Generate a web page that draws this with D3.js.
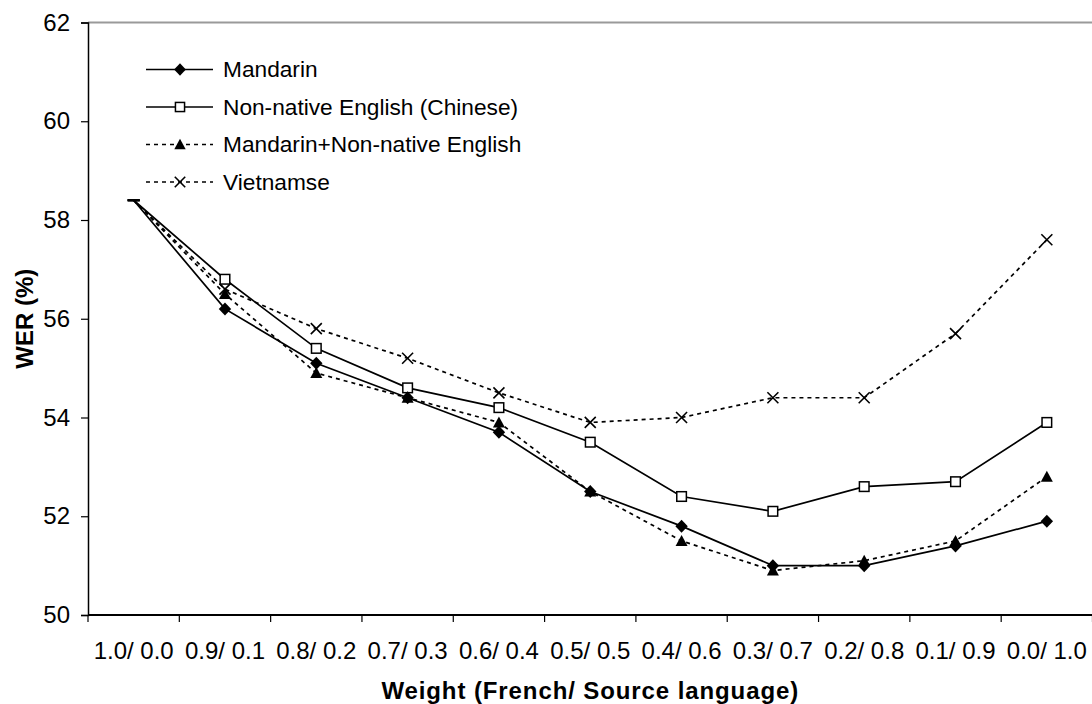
<!DOCTYPE html>
<html>
<head>
<meta charset="utf-8">
<script src="https://cdn.jsdelivr.net/npm/d3@7"></script>
<style>
  html, body { margin: 0; padding: 0; background: #fff; }
  svg { display: block; font-family: "Liberation Sans", Arial, sans-serif; }
</style>
</head>
<body>
<svg id="chart" width="1092" height="704"></svg>
<script>
const categories = ["1.0/ 0.0", "0.9/ 0.1", "0.8/ 0.2", "0.7/ 0.3", "0.6/ 0.4", "0.5/ 0.5",
                    "0.4/ 0.6", "0.3/ 0.7", "0.2/ 0.8", "0.1/ 0.9", "0.0/ 1.0"];
const mandarin   = [58.4, 56.2, 55.1, 54.4, 53.7, 52.5, 51.8, 51.0, 51.0, 51.4, 51.9];
const nonNative  = [58.4, 56.8, 55.4, 54.6, 54.2, 53.5, 52.4, 52.1, 52.6, 52.7, 53.9];
const mixed      = [58.4, 56.5, 54.9, 54.4, 53.9, 52.5, 51.5, 50.9, 51.1, 51.5, 52.8];
const vietnamese = [58.4, 56.6, 55.8, 55.2, 54.5, 53.9, 54.0, 54.4, 54.4, 55.7, 57.6];
const seriesNames = ["Mandarin", "Non-native English (Chinese)", "Mandarin+Non-native English", "Vietnamse"];
const yTicks = [50, 52, 54, 56, 58, 60, 62];
const xTitle = "Weight (French/ Source language)";
const yTitle = "WER (%)";

(function () {
const series = [
  { name: seriesNames[0], values: mandarin,   marker: "diamond",  dash: null },
  { name: seriesNames[1], values: nonNative,  marker: "square",   dash: null },
  { name: seriesNames[2], values: mixed,      marker: "triangle", dash: "4,4" },
  { name: seriesNames[3], values: vietnamese, marker: "cross",    dash: "4,4" }
];

const svg = d3.select("#chart");
const pLeft = 88, pRight = 1092.5, pTop = 22.5, pBottom = 615;

const x = d3.scaleBand().domain(categories).range([pLeft, pRight]).padding(0);
const xc = c => x(c) + x.bandwidth() / 2;
const y = d3.scaleLinear().domain([50, 62]).range([pBottom, pTop]);

// top border (grey)
svg.append("line").attr("x1", pLeft).attr("x2", 1092).attr("y1", pTop).attr("y2", pTop)
  .attr("stroke", "#9a9a9a").attr("stroke-width", 2);

// Y axis
const yAxis = svg.append("g").attr("transform", `translate(${pLeft},0)`)
  .call(d3.axisLeft(y).tickValues(yTicks).tickSize(7).tickPadding(11).tickFormat(d3.format("d")));
yAxis.select(".domain").attr("stroke", "#000").attr("stroke-width", 1.5);
yAxis.selectAll(".tick line").attr("stroke", "#000").attr("stroke-width", 1.2);
yAxis.selectAll("text").attr("font-size", 24).attr("fill", "#000")
  .attr("font-family", "'Liberation Sans', Arial, sans-serif");

// X axis
const xTickPos = categories.map(c => x(c)).concat([pRight]);
const xAxisG = svg.append("g").attr("transform", `translate(0,${pBottom})`);
xAxisG.append("line").attr("x1", pLeft).attr("x2", 1092).attr("y1", 0).attr("y2", 0)
  .attr("stroke", "#000").attr("stroke-width", 1.8);
xAxisG.selectAll("line.tk").data(xTickPos).enter().append("line").attr("class", "tk")
  .attr("x1", d => d).attr("x2", d => d).attr("y1", 0).attr("y2", 7)
  .attr("stroke", "#000").attr("stroke-width", 1.2);
xAxisG.selectAll("text.lbl").data(categories).enter().append("text").attr("class", "lbl")
  .attr("x", d => xc(d)).attr("y", 44).attr("text-anchor", "middle")
  .attr("font-size", 24).attr("fill", "#000").text(d => d);

// axis titles
svg.append("text").attr("x", (pLeft + pRight) / 2).attr("y", 699).attr("text-anchor", "middle")
  .attr("font-size", 24).attr("font-weight", "bold").attr("letter-spacing", "0.9px")
  .attr("fill", "#000").text(xTitle);
svg.append("text").attr("transform", `translate(33,${(pTop + pBottom) / 2}) rotate(-90)`)
  .attr("text-anchor", "middle").attr("font-size", 24).attr("font-weight", "bold")
  .attr("fill", "#000").text(yTitle);

// marker drawing
function drawMarker(g, type, cx, cy, scale) {
  const s = scale || 1;
  if (type === "diamond") {
    const w = 6.2 * s, h = 6.5 * s;
    g.append("path").attr("d", `M${cx},${cy - h}L${cx + w},${cy}L${cx},${cy + h}L${cx - w},${cy}Z`)
      .attr("fill", "#000");
  } else if (type === "square") {
    const h = 4.8 * s;
    g.append("rect").attr("x", cx - h).attr("y", cy - h).attr("width", 2 * h).attr("height", 2 * h)
      .attr("fill", "#fff").attr("stroke", "#000").attr("stroke-width", 1.5);
  } else if (type === "triangle") {
    const w = 6 * s, h = 11 * s;
    g.append("path").attr("d", `M${cx},${cy - h * 0.55}L${cx + w},${cy + h * 0.45}L${cx - w},${cy + h * 0.45}Z`)
      .attr("fill", "#000");
  } else if (type === "cross") {
    const h = 5.5 * s;
    g.append("path").attr("d", `M${cx - h},${cy - h}L${cx + h},${cy + h}M${cx - h},${cy + h}L${cx + h},${cy - h}`)
      .attr("stroke", "#000").attr("stroke-width", 1.6).attr("fill", "none");
  }
}

// lines
const line = d3.line().x((d, i) => xc(categories[i])).y(d => y(d));
const order = [3, 2, 1, 0];
order.forEach(k => {
  const s = series[k];
  svg.append("path").datum(s.values).attr("d", line)
    .attr("fill", "none").attr("stroke", "#000").attr("stroke-width", 1.7)
    .attr("stroke-dasharray", s.dash);
});
order.forEach(k => {
  const s = series[k];
  const g = svg.append("g");
  s.values.forEach((v, i) => {
    if (i === 0) {
      g.append("line").attr("x1", xc(categories[i]) - 6).attr("x2", xc(categories[i]) + 6)
        .attr("y1", y(v)).attr("y2", y(v)).attr("stroke", "#000").attr("stroke-width", 2);
    } else {
      drawMarker(g, s.marker, xc(categories[i]), y(v), 1);
    }
  });
});

// legend
const legend = svg.append("g");
const legY0 = 69.5, legDy = 37.5;
series.forEach((s, i) => {
  const yy = legY0 + i * legDy;
  legend.append("line").attr("x1", 146).attr("x2", 213).attr("y1", yy).attr("y2", yy)
    .attr("stroke", "#000").attr("stroke-width", 1.7).attr("stroke-dasharray", s.dash);
  drawMarker(legend, s.marker, 180, yy, 0.95);
  legend.append("text").attr("x", 223).attr("y", yy).attr("dy", "0.35em")
    .attr("font-size", 22.7).attr("fill", "#000").text(s.name);
});
})();
</script>
</body>
</html>
